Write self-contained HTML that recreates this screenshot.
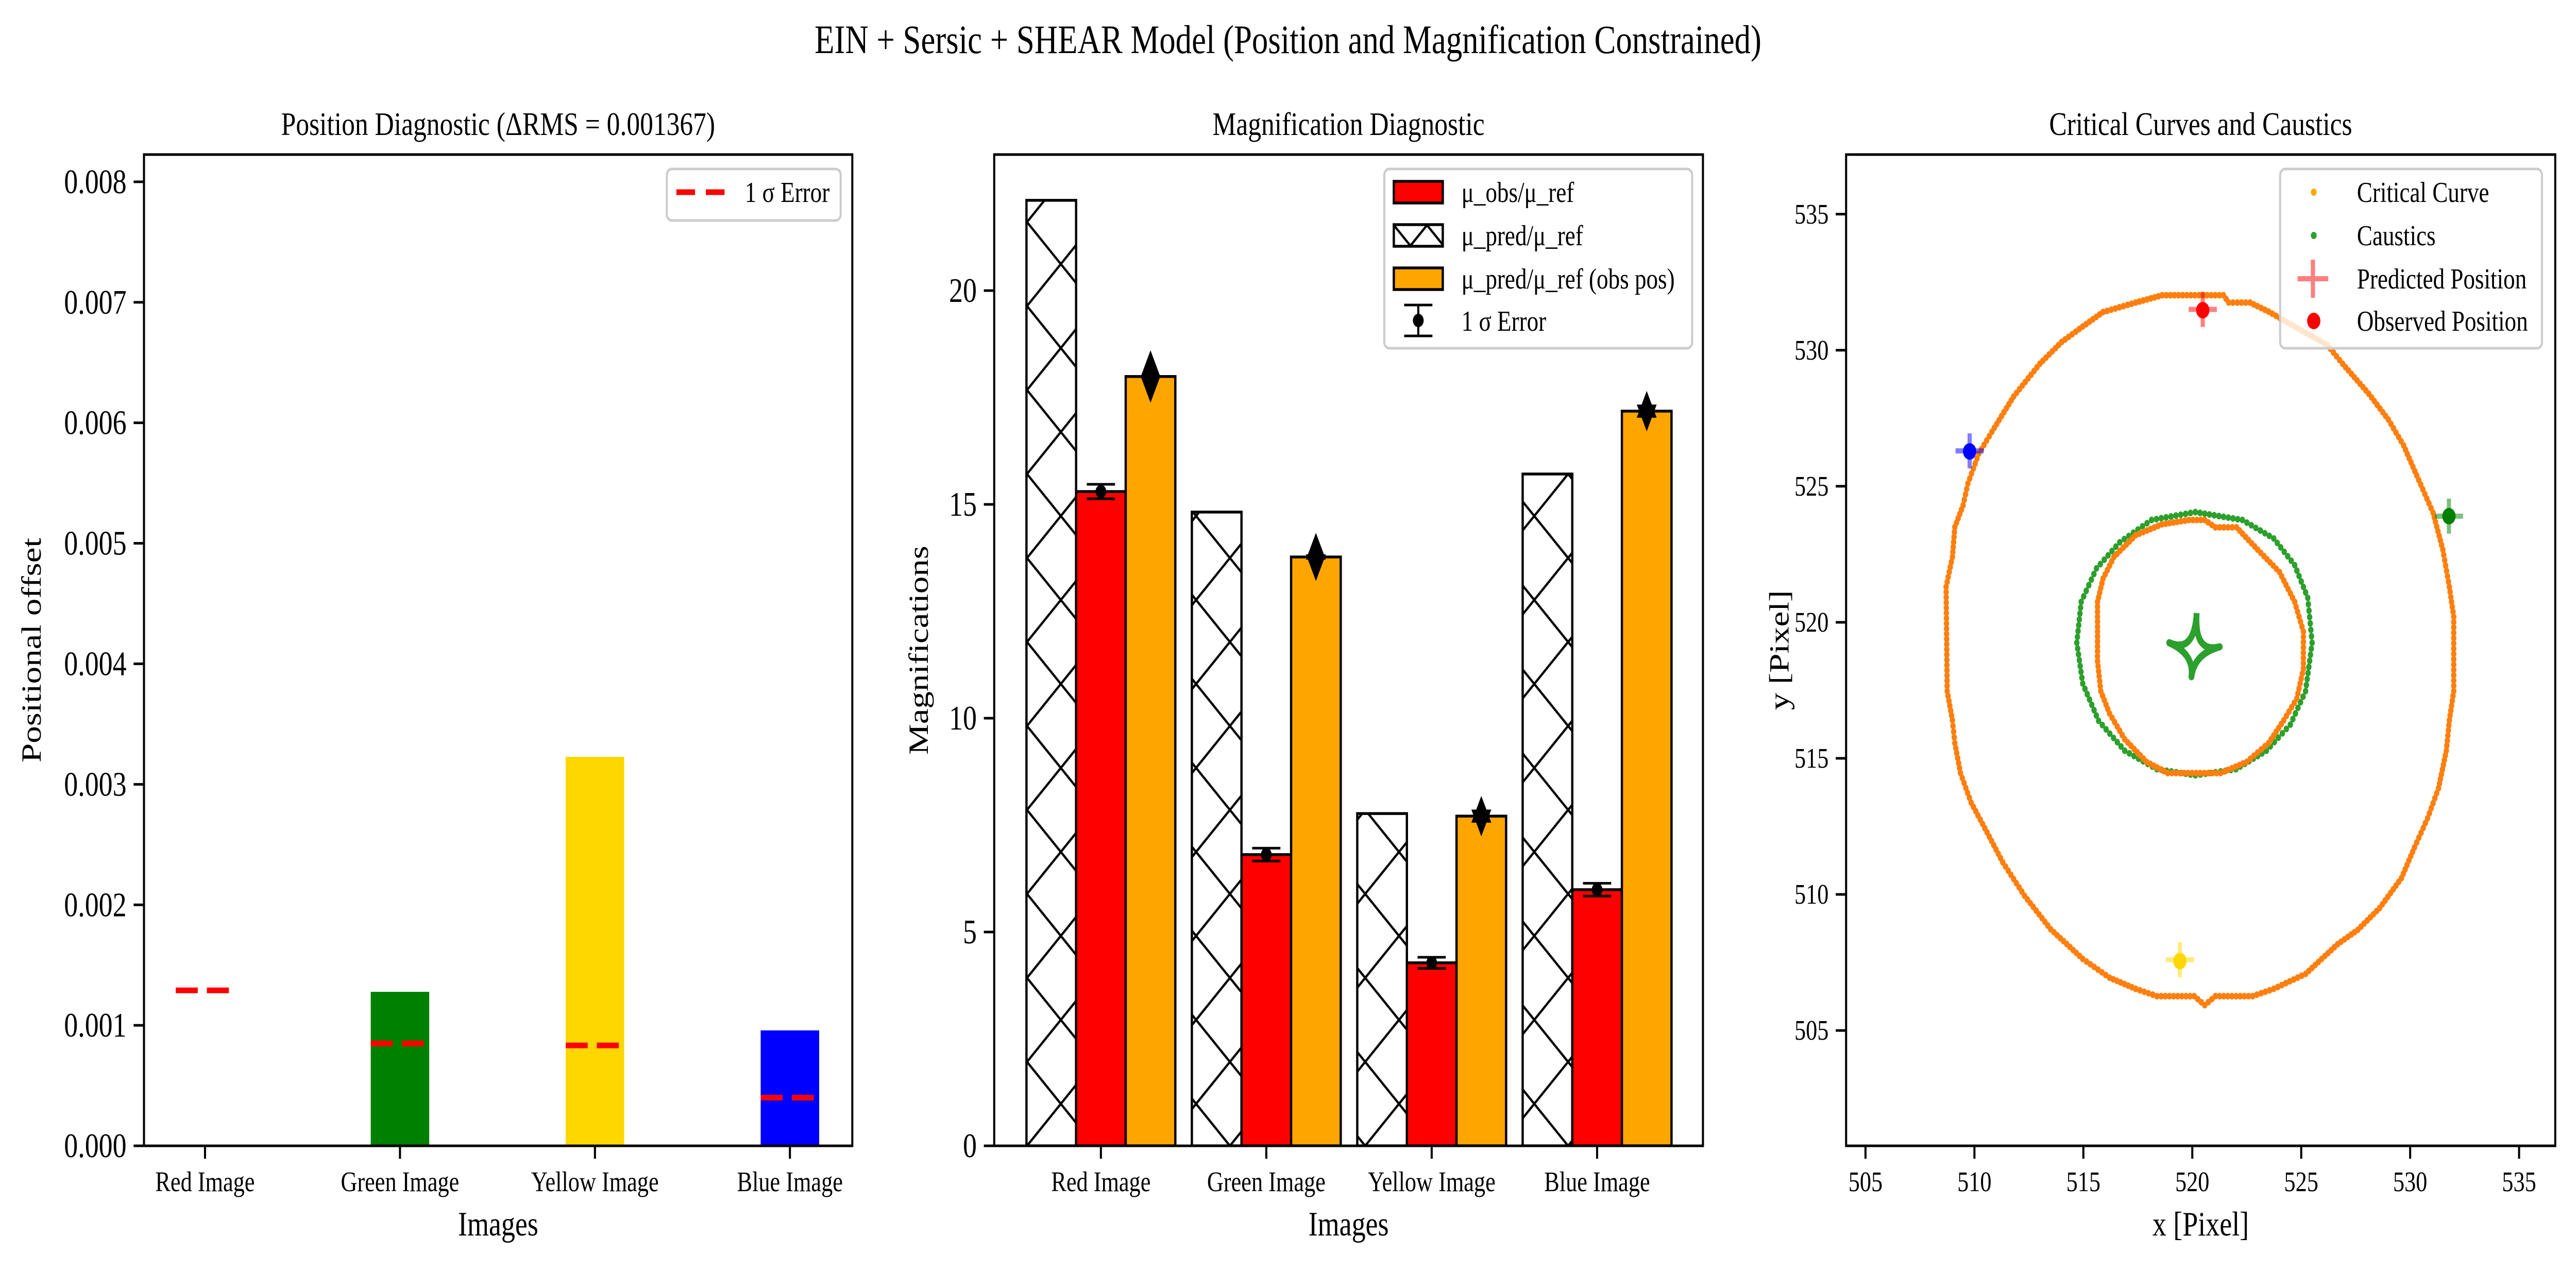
<!DOCTYPE html>
<html><head><meta charset="utf-8"><style>
html,body{margin:0;padding:0;background:#fff;overflow:hidden;width:100%;height:100%}
svg{display:block;width:100vw;height:100vh}
text{font-family:"Liberation Serif","DejaVu Serif",serif;fill:#000}
</style></head><body>
<svg id="fig" xmlns="http://www.w3.org/2000/svg" viewBox="0 0 6208 2465" preserveAspectRatio="none">
<defs>
<pattern id="hatchX" patternUnits="userSpaceOnUse" width="163" height="163" x="2475" y="2224">
<path d="M0,0 L163,163 M163,0 L0,163" stroke="#000" stroke-width="5" fill="none"/>
</pattern>
<pattern id="hatchL" patternUnits="userSpaceOnUse" width="80" height="80" x="3359" y="437">
<path d="M0,0 L80,80 M80,0 L0,80" stroke="#000" stroke-width="5" fill="none"/>
</pattern>
<clipPath id="clip1"><rect x="347" y="300" width="1707" height="1924"/></clipPath>
<clipPath id="clip2"><rect x="2396" y="300" width="1708" height="1924"/></clipPath>
<clipPath id="clip3"><rect x="4449" y="300" width="1709" height="1924"/></clipPath>
</defs>
<rect x="0" y="0" width="6208" height="2465" fill="#fff"/>
<text x="3104" y="103" font-size="78" text-anchor="middle">EIN + Sersic + SHEAR Model (Position and Magnification Constrained)</text>
<g id="p1"></g>
<g id="p2"></g>
<g id="p3"></g>
</svg>
<script>
// ---- Panel 1 data ----
const posCats = ['Red Image','Green Image','Yellow Image','Blue Image'];
const posOffsets = [0.00001, 0.001278, 0.003228, 0.000958];
const posErrors = [0.00129, 0.00085, 0.000833, 0.0004];
const posYTicks = [0,0.001,0.002,0.003,0.004,0.005,0.006,0.007,0.008];
const posYTickLabels = ['0.000','0.001','0.002','0.003','0.004','0.005','0.006','0.007','0.008'];
const posBarColors = ['#ff0000','#008000','#ffd700','#0000ff'];

// ---- Panel 2 data ----
const magCats = ['Red Image','Green Image','Yellow Image','Blue Image'];
const magObs = [15.3, 6.81, 4.28, 5.99];
const magObsErr = [0.17, 0.15, 0.13, 0.15];
const magPred = [22.11, 14.82, 7.77, 15.71];
const magPredObsPos = [17.99, 13.77, 7.71, 17.18];
const magPredErr = [0.3, 0.25, 0.16, 0.16];
const magYTicks = [0,5,10,15,20];

// ---- Panel 3 data ----
const outerCurveX = [518.62,521.43,521.67,522.65,523.5,524.7,526.2,526.9,528.1,529.0,529.7,530.3,531.05,531.5,531.8,532.0,532.0,531.8,531.66,531.3,530.8,530.2,529.6,528.6,527.6,526.67,525.2,523.74,522.77,521.06,520.57,520.09,518.38,517.4,516.2,514.97,513.5,512.3,511.3,510.58,509.85,509.36,509.1,508.99,508.75,508.7,508.99,509.1,509.48,509.7,510.2,510.8,511.8,513.0,514.0,514.97,515.9,517.4,518.62];
const outerCurveY = [532.02,532.02,531.75,531.75,531.42,530.87,530.19,529.5,528.4,527.45,526.5,525.4,524.03,522.67,521.3,520.2,517.47,516.4,515.28,513.9,512.8,511.73,510.6,509.5,508.7,508.17,507.08,506.53,506.26,506.26,505.93,506.26,506.26,506.53,506.94,507.63,508.72,509.95,511.18,512.28,513.37,514.46,515.56,516.4,517.47,521.3,522.4,523.5,524.3,525.1,526.2,527.0,528.3,529.5,530.3,530.87,531.4,531.75,532.02];
const innerCurveX = [519.84,520.57,521.06,522.03,523.0,524.0,524.7,525.1,525.1,524.8,524.2,523.5,522.5,521.3,518.87,517.9,516.9,516.2,515.8,515.65,515.65,515.9,516.4,517.4,518.6,519.84];
const innerCurveY = [523.76,523.76,523.49,523.49,522.67,521.85,520.75,519.66,518.3,517.2,516.4,515.56,514.87,514.46,514.46,514.87,515.7,516.65,517.47,518.57,520.75,521.6,522.4,523.2,523.6,523.76];
const causticX = [520.14,522.3,523.74,524.7,525.3,525.5,525.2,524.5,523.4,522.0,520.14,518.38,516.9,515.7,514.97,514.7,514.9,515.6,516.67,518.13,520.14];
const causticY = [524.05,523.76,523.08,522.1,520.9,519.25,517.47,516.24,515.28,514.6,514.38,514.6,515.28,516.38,517.75,519.25,520.75,521.98,522.94,523.76,524.05];
const astroidCenter = [520.09, 518.84];
const astroidCuspX = [520.2, 521.26, 519.96, 518.94];
const astroidCuspY = [520.34, 519.1, 518.0, 519.25];
const imgObsX = [520.48, 531.78, 519.43, 509.78];
const imgObsY = [531.47, 523.9, 507.55, 526.28];
const imgPredX = [520.48, 531.78, 519.43, 509.78];
const imgPredY = [531.5, 523.9, 507.6, 526.3];
const imgColors = ['#ff0000','#008000','#ffd700','#0000ff'];
const ccTicks = [505,510,515,520,525,530,535];

const NS='http://www.w3.org/2000/svg';
function mk(parent, tag, attrs, txt){
  const e=document.createElementNS(NS,tag);
  for(const k in attrs) e.setAttribute(k, attrs[k]);
  if(txt!==undefined) e.textContent=txt;
  parent.appendChild(e); return e;
}
function lin(d0,d1,r0,r1){return v=>r0+(v-d0)/(d1-d0)*(r1-r0);}

function axesFrame(g, L,T,R,B){
  const f=mk(g,'rect',{x:L,y:T,width:R-L,height:B-T,fill:'none',stroke:'#000','stroke-width':5});
  
  
}
function yTick(g, x, y, label, fs, name){
  const t=mk(g,'line',{x1:x-25,y1:y,x2:x,y2:y,stroke:'#000','stroke-width':5});
  
  
  const l=mk(g,'text',{x:x-42,y:y+fs*0.33,'font-size':fs,'text-anchor':'end'},label);
  
  
}
function xTick(g, x, y, label, fs, name){
  const t=mk(g,'line',{x1:x,y1:y,x2:x,y2:y+25,stroke:'#000','stroke-width':5});
  
  
  const l=mk(g,'text',{x:x,y:2312,'font-size':fs,'text-anchor':'middle'},label);
  
  
}
function label(g, txt, x, y, fs, name, rot){
  const a={x:x,y:y,'font-size':fs,'text-anchor':'middle'};
  if(rot) a.transform='rotate(-90 '+x+' '+y+')';
  const l=mk(g,'text',a,txt);
  
  
  return l;
}
function legendBox(g,x,y,w,h){
  const b=mk(g,'rect',{x:x,y:y,width:w,height:h,rx:12,fill:'#fff','fill-opacity':0.8,stroke:'#cccccc','stroke-width':5});
  
  
}

// ================= Panel 1 =================
(function(){
  const g=document.getElementById('p1');
  const L=347,T=300,R=2054,B=2224;
  const x=lin(-0.313,3.32,L,R), y=lin(0,0.008226,B,T);
  const bw=0.3;
  const gb=mk(g,'g',{'clip-path':'url(#clip1)'});
  posOffsets.forEach((v,i)=>{
    const r=mk(gb,'rect',{x:x(i-bw/2),y:y(v),width:x(i+bw/2)-x(i-bw/2),height:y(0)-y(v),fill:posBarColors[i]});
    
    
  });
  posErrors.forEach((v,i)=>{
    const l=mk(gb,'line',{x1:x(i-0.15),y1:y(v),x2:x(i+0.15),y2:y(v),stroke:'#ff0000','stroke-width':11,'stroke-dasharray':'53 22'});
    
    
  });
  axesFrame(g,L,T,R,B);
  posYTicks.forEach((v,i)=>yTick(g,L,y(v),posYTickLabels[i],67,'y'));
  posCats.forEach((c,i)=>xTick(g,x(i),B,c,55,'x'));
  label(g,'Images',(L+R)/2,2398,67,'x-axis-title');
  label(g,'Positional offset',98,(T+B)/2,67,'y-axis-title',true);
  label(g,'Position Diagnostic (\u0394RMS = 0.001367)',(L+R)/2,262,64,'panel-title');
  legendBox(g,1607,328,419,100);
  const ll=mk(g,'line',{x1:1630,y1:373,x2:1746,y2:373,stroke:'#ff0000','stroke-width':11,'stroke-dasharray':'45 26'});
  
  
  const lt=mk(g,'text',{x:1795,y:392,'font-size':56},'1 \u03c3 Error');
  
  
})();

// ================= Panel 2 =================
(function(){
  const g=document.getElementById('p2');
  const L=2396,T=300,R=4104,B=2224;
  const x=lin(-0.645,3.64,L,R), y=lin(0,23.18,B,T);
  const bw=0.3;
  const gb=mk(g,'g',{'clip-path':'url(#clip2)'});
  magCats.forEach((c,i)=>{
    const key=c.toLowerCase().replace(' ','-');
    const p=mk(gb,'rect',{x:x(i-0.3-bw/2),y:y(magPred[i]),width:x(bw)-x(0),height:y(0)-y(magPred[i]),fill:'url(#hatchX)',stroke:'#000','stroke-width':5.5});
    
    
    const o=mk(gb,'rect',{x:x(i-bw/2),y:y(magObs[i]),width:x(bw)-x(0),height:y(0)-y(magObs[i]),fill:'#ff0000',stroke:'#000','stroke-width':5.5});
    
    
    const q=mk(gb,'rect',{x:x(i+0.3-bw/2),y:y(magPredObsPos[i]),width:x(bw)-x(0),height:y(0)-y(magPredObsPos[i]),fill:'#ffa500',stroke:'#000','stroke-width':5.5});
    
    
    const cx=x(i), y1=y(magObs[i]+magObsErr[i]), y2=y(magObs[i]-magObsErr[i]);
    const eb=mk(gb,'g',{});
    
    
    mk(eb,'line',{x1:cx,y1:y1,x2:cx,y2:y2,stroke:'#000','stroke-width':5});
    mk(eb,'line',{x1:cx-34,y1:y1,x2:cx+34,y2:y1,stroke:'#000','stroke-width':5});
    mk(eb,'line',{x1:cx-34,y1:y2,x2:cx+34,y2:y2,stroke:'#000','stroke-width':5});
    mk(eb,'circle',{cx:cx,cy:y(magObs[i]),r:13,fill:'#000'});
    const px=x(i+0.3), up=y(magPredObsPos[i]+magPredErr[i]), dn=y(magPredObsPos[i]-magPredErr[i]);
    const pe=mk(gb,'g',{});
    
    
    mk(pe,'line',{x1:px,y1:up,x2:px,y2:dn,stroke:'#000','stroke-width':5});
    mk(pe,'path',{d:`M${px},${up-26} L${px+24},${up+26} L${px-24},${up+26} Z`,fill:'#000'});
    mk(pe,'path',{d:`M${px},${dn+26} L${px+24},${dn-26} L${px-24},${dn-26} Z`,fill:'#000'});
  });
  axesFrame(g,L,T,R,B);
  magYTicks.forEach(v=>yTick(g,L,y(v),String(v),67,'y'));
  magCats.forEach((c,i)=>xTick(g,x(i),B,c,55,'x'));
  label(g,'Images',(L+R)/2,2398,67,'x-axis-title');
  label(g,'Magnifications',2236,(T+B)/2,67,'y-axis-title',true);
  label(g,'Magnification Diagnostic',(L+R)/2,262,64,'panel-title');
  legendBox(g,3336,328,742,348);
  const ent=[['\u03bc_obs/\u03bc_ref','#ff0000',373],['\u03bc_pred/\u03bc_ref','url(#hatchL)',457],['\u03bc_pred/\u03bc_ref (obs pos)','#ffa500',541]];
  ent.forEach((e,k)=>{
    const r=mk(g,'rect',{x:3359,y:e[2]-21,width:118,height:42,fill:e[1],stroke:'#000','stroke-width':5.5});
    
    
    const t=mk(g,'text',{x:3522,y:e[2]+19,'font-size':56},e[0]);
    
    
  });
  const le=mk(g,'g',{});
  
  
  mk(le,'line',{x1:3418,y1:592,x2:3418,y2:652,stroke:'#000','stroke-width':5});
  mk(le,'line',{x1:3384,y1:592,x2:3452,y2:592,stroke:'#000','stroke-width':5});
  mk(le,'line',{x1:3384,y1:652,x2:3452,y2:652,stroke:'#000','stroke-width':5});
  mk(le,'circle',{cx:3418,cy:622,r:13,fill:'#000'});
  const t4=mk(g,'text',{x:3522,y:642,'font-size':56},'1 \u03c3 Error');
  
  
})();

// ================= Panel 3 =================
(function(){
  const g=document.getElementById('p3');
  const L=4449,T=300,R=6158,B=2224;
  const x=lin(504.11,536.66,L,R), y=lin(500.76,537.19,B,T);
  const gb=mk(g,'g',{'clip-path':'url(#clip3)'});
  function dots(xs,ys,color,name,step){
    const grp=mk(gb,'g',{fill:color});
    
    
    for(let i=0;i<xs.length-1;i++){
      const ax=x(xs[i]),ay=y(ys[i]),bx=x(xs[i+1]),by=y(ys[i+1]);
      const d=Math.hypot(bx-ax,by-ay), n=Math.max(1,Math.round(d/step));
      for(let k=0;k<n;k++){
        const t=k/n;
        mk(grp,'circle',{cx:ax+(bx-ax)*t,cy:ay+(by-ay)*t,r:6.5});
      }
    }
  }
  dots(causticX,causticY,'#2ca02c','caustic-ellipse',12);
  dots(outerCurveX,outerCurveY,'#ff7f0e','outer-critical-curve',10);
  dots(innerCurveX,innerCurveY,'#ff7f0e','inner-critical-curve',10);
  const cX=x(astroidCenter[0]), cY=y(astroidCenter[1]);
  const px=astroidCuspX.map(v=>x(v)), py=astroidCuspY.map(v=>y(v));
  let d=`M${px[0]},${py[0]}`;
  for(let k=1;k<=4;k++){const j=k%4; d+=` Q${cX},${cY} ${px[j]},${py[j]}`;}
  const ast=mk(gb,'path',{d:d,fill:'none',stroke:'#2ca02c','stroke-width':14,'stroke-linejoin':'round'});
  
  
  imgPredX.forEach((v,i)=>{
    const cx=x(v),cy=y(imgPredY[i]);
    const c=mk(gb,'path',{d:`M${cx-34},${cy} H${cx+34} M${cx},${cy-34} V${cy+34}`,stroke:imgColors[i],'stroke-opacity':0.5,'stroke-width':10});
    
    
  });
  imgObsX.forEach((v,i)=>{
    const c=mk(gb,'circle',{cx:x(v),cy:y(imgObsY[i]),r:16,fill:imgColors[i]});
    
    
  });
  axesFrame(g,L,T,R,B);
  ccTicks.forEach(v=>yTick(g,L,y(v),String(v),55,'y'));
  ccTicks.forEach(v=>xTick(g,x(v),B,String(v),55,'x'));
  label(g,'x [Pixel]',(L+R)/2,2398,67,'x-axis-title');
  label(g,'y [Pixel]',4310,(T+B)/2,67,'y-axis-title',true);
  label(g,'Critical Curves and Caustics',(L+R)/2,262,64,'panel-title');
  legendBox(g,5495,328,631,348);
  const m1=mk(g,'circle',{cx:5576,cy:373,r:7,fill:'#ffa500'});
  
  
  const m2=mk(g,'circle',{cx:5576,cy:457,r:7,fill:'#2ca02c'});
  
  
  const m3=mk(g,'path',{d:'M5537,541 H5611 M5574,504 V578',stroke:'#ff0000','stroke-opacity':0.5,'stroke-width':10});
  
  
  const m4=mk(g,'circle',{cx:5576,cy:623,r:16,fill:'#ff0000'});
  
  
  [['Critical Curve',373],['Caustics',457],['Predicted Position',541],['Observed Position',623]].forEach((e,k)=>{
    const t=mk(g,'text',{x:5680,y:e[1]+19,'font-size':56},e[0]);
    
    
  });
})();
</script>
</body></html>
